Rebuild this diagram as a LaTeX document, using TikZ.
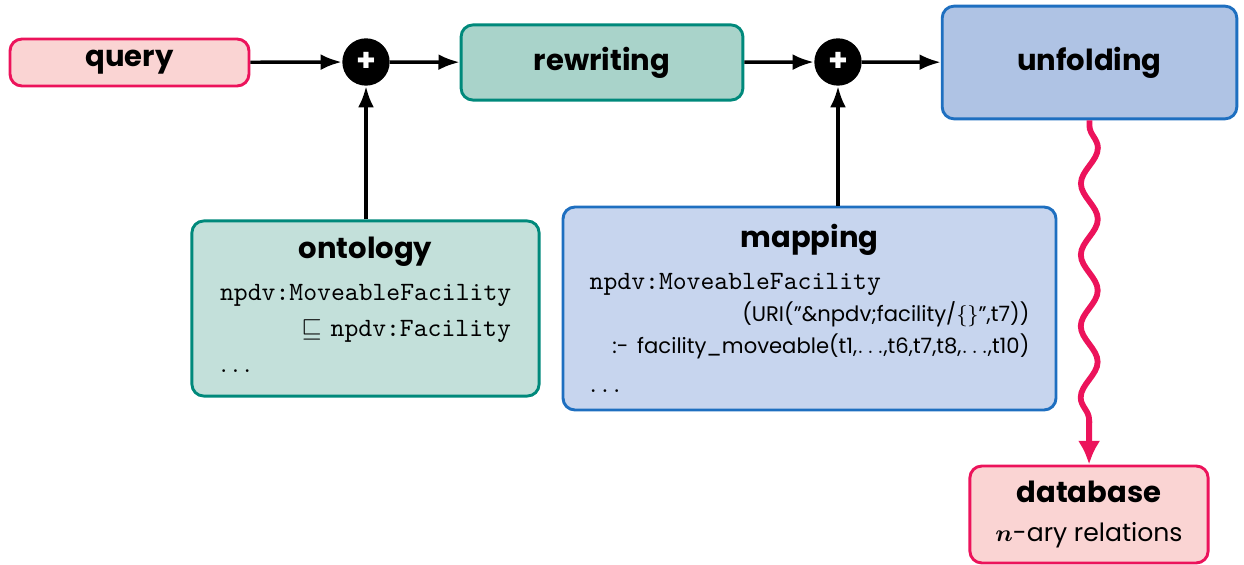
\documentclass[tikz,border=0pt]{standalone}
\usepackage{amsmath,amssymb}
\usepackage{fontspec}
\setmainfont{Poppins}
\usetikzlibrary{arrows.meta,decorations.pathmorphing}
\definecolor{rosefill}{HTML}{FAD4D3}
\definecolor{rosedraw}{HTML}{EC135B}
\definecolor{tealdraw}{HTML}{00897B}
\definecolor{tealfill}{HTML}{A9D3CA}
\definecolor{tealpale}{HTML}{C3E0DA}
\definecolor{bluedraw}{HTML}{1E6FC0}
\definecolor{bluefill}{HTML}{AFC3E4}
\definecolor{bluepale}{HTML}{C7D5EE}
\newcommand{\boxtitle}[1]{{\fontsize{11}{13}\selectfont\bfseries #1}}
\newcommand{\boxbody}{\fontsize{8}{10}\selectfont}

\begin{document}
\begin{tikzpicture}[x=0.0133cm, y=-0.0133cm,
    block/.style={draw, rounded corners=4.5pt, line width=1.1pt, inner sep=0pt},
    plus/.style={circle, fill=black, minimum size=0.63cm, inner sep=0pt, text=white, font=\large\bfseries},
    flow/.style={-{Latex[length=8pt,width=6pt]}, line width=1.3pt},
    wave/.style={rosedraw, line width=2.2pt, -{Latex[length=9pt,width=8.5pt]},
        decorate, decoration={snake, amplitude=3.2pt, segment length=27pt, pre length=2pt, post length=14pt}}]
    \useasboundingbox (0,0) rectangle (1244,565);

    \node[block, draw=rosedraw, fill=rosefill, minimum width=3.18cm, minimum height=0.625cm] (query) at (129.5,62.5) {\boxtitle{query}};
    \node[plus] (plusq) at (366,62) {+};
    \node[block, draw=tealdraw, fill=tealfill, minimum width=3.75cm, minimum height=1.0cm] (rewriting) at (602,62.5) {\boxtitle{rewriting}};
    \node[plus] (plusm) at (838,62) {+};
    \node[block, draw=bluedraw, fill=bluefill, minimum width=3.92cm, minimum height=1.5cm] (unfolding) at (1089.5,62.5) {\boxtitle{unfolding}};

    \node[block, draw=tealdraw, fill=tealpale, minimum width=4.62cm, minimum height=2.33cm, text width=3.87cm, align=left] (ontology) at (365.5,308.5) {%
        \hfill\boxtitle{ontology}\hfill\null\\[4pt]
        \texttt{npdv:MoveableFacility}\\[1.5pt]
        \hfill$\sqsubseteq$ \texttt{npdv:Facility}\\[1.5pt]
        $\ldots$\\[-9pt]\null};
    \node[block, draw=bluedraw, fill=bluepale, minimum width=6.56cm, minimum height=2.7cm, text width=5.85cm, align=left] (mapping) at (809.5,308.5) {%
        \hfill\boxtitle{mapping}\hfill\null\\[4pt]
        \texttt{npdv:MoveableFacility}\\[0pt]
        \hfill{\boxbody(URI(”\&npdv;facility/$\{\}$”,t7))}\\[0pt]
        \hfill{\boxbody:- facility\_moveable(t1,$\ldots$,t6,t7,t8,$\ldots$,t10)}\\[3pt]
        $\ldots$};
    \node[block, draw=rosedraw, fill=rosefill, minimum width=3.17cm, minimum height=1.29cm, align=center] (database) at (1089,514.5) {%
        \boxtitle{database}\\[3pt]
        {\fontsize{9.5}{11}\selectfont$\boldsymbol{n}$-ary relations}};

    \draw[flow] (query) -- (plusq);
    \draw[flow] (plusq) -- (rewriting);
    \draw[flow] (rewriting) -- (plusm);
    \draw[flow] (plusm) -- (unfolding);
    \draw[flow] (ontology.north -| plusq) -- (plusq);
    \draw[flow] (mapping.north -| plusm) -- (plusm);
    \draw[wave] (unfolding) -- (database);
\end{tikzpicture}
\end{document}
